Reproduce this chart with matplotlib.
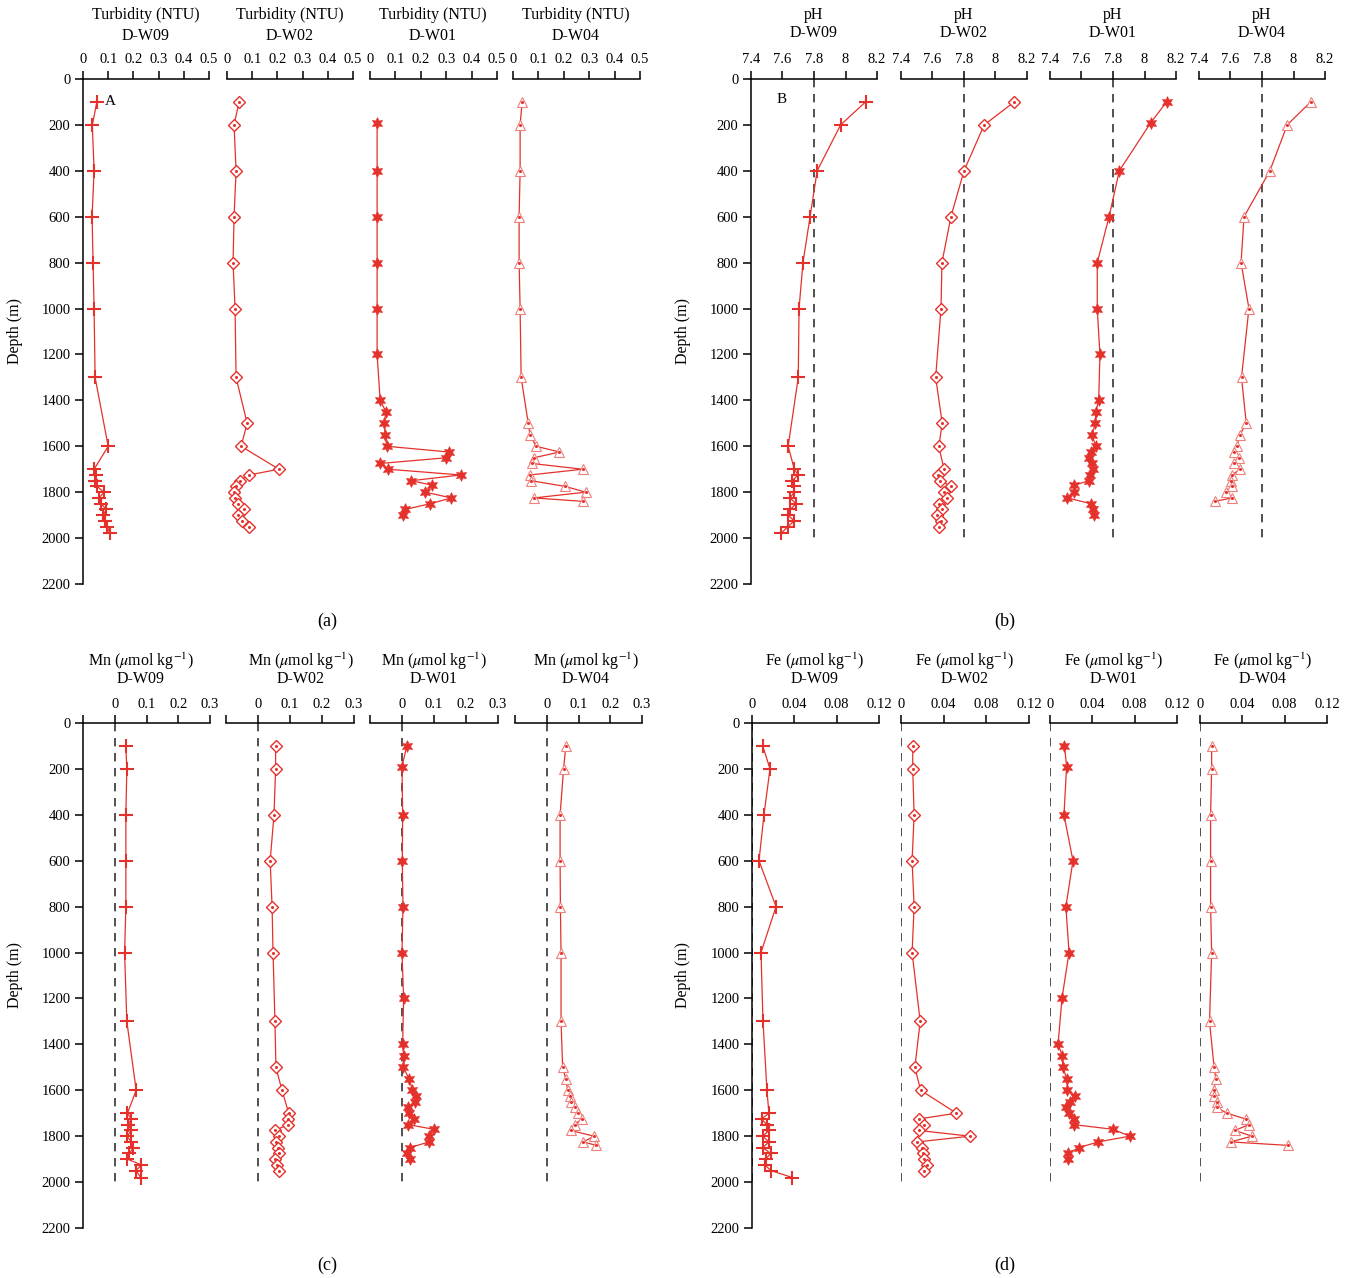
import matplotlib
matplotlib.use('Agg')
import matplotlib.pyplot as plt

plt.rcParams['font.family'] = 'Liberation Serif'
plt.rcParams['mathtext.fontset'] = 'stix'

# sampling depths (m) for each station
depth_w09 = [100, 200, 400, 600, 800, 1000, 1300, 1600, 1700, 1725, 1750, 1775, 1800,
             1825, 1850, 1875, 1900, 1925, 1950, 1980]
depth_w02 = [100, 200, 400, 600, 800, 1000, 1300, 1500, 1600, 1700, 1725, 1750, 1775,
             1800, 1825, 1850, 1875, 1900, 1925, 1950]
depth_w01 = [100, 190, 400, 600, 800, 1000, 1200, 1400, 1450, 1500, 1550, 1600, 1625,
             1650, 1675, 1700, 1725, 1750, 1770, 1800, 1825, 1850, 1875, 1900]
depth_w04 = [100, 200, 400, 600, 800, 1000, 1300, 1500, 1550, 1600, 1625, 1650, 1675,
             1700, 1725, 1750, 1775, 1800, 1825, 1840]

# turbidity (NTU) - D-W01 has no 100 m value
turb_w09 = [0.055, 0.037, 0.044, 0.036, 0.040, 0.044, 0.048, 0.100, 0.044, 0.052, 0.048,
            0.056, 0.083, 0.064, 0.072, 0.092, 0.080, 0.088, 0.096, 0.107]
turb_w02 = [0.048, 0.028, 0.036, 0.028, 0.024, 0.032, 0.036, 0.080, 0.056, 0.206, 0.087,
            0.050, 0.036, 0.028, 0.032, 0.044, 0.067, 0.044, 0.060, 0.087]
turb_w01 = [0.028, 0.028, 0.028, 0.028, 0.028, 0.028, 0.040, 0.063, 0.056, 0.060, 0.067,
            0.310, 0.300, 0.040, 0.071, 0.357, 0.163, 0.246, 0.218, 0.320, 0.238, 0.139, 0.131]
turb_w04 = [0.036, 0.028, 0.028, 0.024, 0.024, 0.028, 0.032, 0.060, 0.067, 0.091, 0.183,
            0.083, 0.075, 0.274, 0.067, 0.071, 0.206, 0.286, 0.083, 0.274]

# pH
ph_w09 = [8.127, 7.969, 7.82, 7.775, 7.73, 7.705, 7.70, 7.636, 7.675, 7.70, 7.66, 7.675,
          7.675, 7.647, 7.686, 7.65, 7.634, 7.675, 7.634, 7.59]
ph_w02 = [8.119, 7.928, 7.80, 7.717, 7.66, 7.654, 7.62, 7.662, 7.64, 7.673, 7.636, 7.65,
          7.717, 7.675, 7.694, 7.64, 7.66, 7.63, 7.652, 7.64]
ph_w01 = [8.14, 8.04, 7.84, 7.775, 7.70, 7.70, 7.717, 7.709, 7.69, 7.688, 7.667, 7.69,
          7.66, 7.647, 7.665, 7.673, 7.655, 7.647, 7.553, 7.551, 7.51, 7.66, 7.673, 7.68]
ph_w04 = [8.109, 7.96, 7.85, 7.686, 7.667, 7.717, 7.67, 7.70, 7.66, 7.64, 7.62, 7.657,
          7.62, 7.66, 7.61, 7.605, 7.61, 7.57, 7.61, 7.50]

# Mn (umol/kg)
mn_w09 = [0.035, 0.038, 0.035, 0.035, 0.035, 0.031, 0.038, 0.0675, 0.040, 0.052, 0.0425,
          0.052, 0.039, 0.052, 0.059, 0.046, 0.040, 0.084, 0.067, 0.082]
mn_w02 = [0.055, 0.055, 0.050, 0.038, 0.044, 0.047, 0.053, 0.056, 0.075, 0.096, 0.094,
          0.093, 0.053, 0.065, 0.056, 0.064, 0.065, 0.053, 0.060, 0.065]
mn_w01 = [0.015, 0.0, 0.002, 0.001, 0.003, 0.0, 0.005, 0.002, 0.005, 0.004, 0.0225, 0.0325,
          0.0425, 0.041, 0.0175, 0.021, 0.036, 0.020, 0.100, 0.085, 0.084, 0.025, 0.015, 0.024]
mn_w04 = [0.060, 0.053, 0.042, 0.042, 0.043, 0.045, 0.045, 0.050, 0.060, 0.066, 0.0725,
          0.075, 0.0875, 0.0975, 0.110, 0.0875, 0.075, 0.149, 0.115, 0.156]

# Fe (umol/kg)
fe_w09 = [0.0102, 0.017, 0.0113, 0.0066, 0.0227, 0.0085, 0.0104, 0.0141, 0.016, 0.009,
          0.014, 0.016, 0.0102, 0.016, 0.0102, 0.0176, 0.013, 0.012, 0.018, 0.038]
fe_w02 = [0.011, 0.011, 0.0123, 0.0104, 0.0123, 0.0104, 0.018, 0.013, 0.0184, 0.052,
          0.0165, 0.0216, 0.0165, 0.0647, 0.0153, 0.020, 0.0204, 0.0216, 0.0243, 0.022]
fe_w01 = [0.0137, 0.0157, 0.0132, 0.0217, 0.015, 0.018, 0.0113, 0.0076, 0.0118, 0.012,
          0.016, 0.0165, 0.024, 0.0188, 0.0153, 0.0176, 0.0224, 0.023, 0.0596, 0.0753,
          0.0455, 0.027, 0.0173, 0.0173]
fe_w04 = [0.011, 0.011, 0.010, 0.010, 0.010, 0.011, 0.009, 0.0133, 0.015, 0.013, 0.013,
          0.016, 0.0157, 0.0255, 0.043, 0.046, 0.033, 0.049, 0.029, 0.083]

stations = ['D-W09', 'D-W02', 'D-W01', 'D-W04']
depth_ticks = list(range(0, 2201, 200))

W, H = 1349, 1278
fig = plt.figure(figsize=(W / 100, H / 100), dpi=100)

red = '#e4312b'
pink = '#ef7f7b'

styles = {
    'D-W09': dict(marker='+', ms=10, mew=1.5, mec=red),
    'D-W02': dict(marker='D', ms=6, mew=1.0, mfc='white', mec=red),
    'D-W01': dict(marker=(6, 1, 0), ms=8.5, mew=0.5, mfc=red, mec=red),
    'D-W04': dict(marker='^', ms=6.5, mew=0.8, mfc='white', mec=pink),
}


def make_axes(x0, x1, y0, y1):
    return fig.add_axes([x0 / W, 1 - y1 / H, (x1 - x0) / W, (y1 - y0) / H])


panels = [
    dict(boxes=[(83, 209), (227, 353), (370, 497), (513, 640)], top=79, bottom=584,
         xlim=(0, 0.5), ticks=[0, 0.1, 0.2, 0.3, 0.4, 0.5],
         labels=['0', '0.1', '0.2', '0.3', '0.4', '0.5'],
         title='Turbidity (NTU)', title_x=[146, 290, 433, 576], title_y=(15, 36),
         series=[(depth_w09, turb_w09), (depth_w02, turb_w02),
                 (depth_w01[1:], turb_w01), (depth_w04, turb_w04)],
         ref=None, caption='(a)', cap_xy=(327, 621), ylab_x=15, letter=('A', 0.088, 100)),
    dict(boxes=[(751, 877), (901, 1027), (1050, 1176), (1199, 1325)], top=79, bottom=584,
         xlim=(7.4, 8.2), ticks=[7.4, 7.6, 7.8, 8.0, 8.2],
         labels=['7.4', '7.6', '7.8', '8', '8.2'],
         title='pH', title_x=[814, 964, 1113, 1262], title_y=(15, 33),
         series=[(depth_w09, ph_w09), (depth_w02, ph_w02),
                 (depth_w01, ph_w01), (depth_w04, ph_w04)],
         ref=7.8, caption='(b)', cap_xy=(1005, 621), ylab_x=683, letter=('B', 7.56, 90)),
    dict(boxes=[(83, 210), (226, 354), (370, 498), (515, 642)], top=723, bottom=1228,
         xlim=(-0.1, 0.3), ticks=[-0.1, 0, 0.1, 0.2, 0.3],
         labels=['', '0', '0.1', '0.2', '0.3'],
         title=r'Mn ($\mu$mol kg$^{-1}$)', title_x=[141, 301, 434, 586], title_y=(661, 679),
         series=[(depth_w09, mn_w09), (depth_w02, mn_w02),
                 (depth_w01, mn_w01), (depth_w04, mn_w04)],
         ref=0.0, caption='(c)', cap_xy=(327, 1265), ylab_x=15, letter=None),
    dict(boxes=[(752, 879), (901, 1029), (1050, 1177), (1200, 1327)], top=723, bottom=1228,
         xlim=(0, 0.12), ticks=[0, 0.04, 0.08, 0.12],
         labels=['0', '0.04', '0.08', '0.12'],
         title=r'Fe ($\mu$mol kg$^{-1}$)', title_x=[815, 965, 1114, 1263], title_y=(661, 679),
         series=[(depth_w09, fe_w09), (depth_w02, fe_w02),
                 (depth_w01, fe_w01), (depth_w04, fe_w04)],
         ref=0.0, caption='(d)', cap_xy=(1005, 1265), ylab_x=683, letter=None),
]

for p in panels:
    for i, st in enumerate(stations):
        x0, x1 = p['boxes'][i]
        ax = make_axes(x0, x1, p['top'], p['bottom'])
        ax.set_xlim(*p['xlim'])
        ax.set_ylim(2200, 0)
        ax.patch.set_alpha(0)
        for s in ['right', 'bottom']:
            ax.spines[s].set_visible(False)
        ax.spines['top'].set_linewidth(1.1)
        ax.spines['left'].set_linewidth(1.1)
        ax.xaxis.tick_top()
        ax.set_xticks(p['ticks'])
        ax.set_xticklabels(p['labels'])
        ax.tick_params(axis='x', direction='out', length=6, width=1.1, pad=3, labelsize=10.5)
        if i == 0:
            ax.set_yticks(depth_ticks)
            ax.set_yticklabels([str(d) for d in depth_ticks])
            ax.tick_params(axis='y', direction='out', length=6, width=1.1, pad=3, labelsize=10.5)
        else:
            ax.spines['left'].set_visible(False)
            ax.tick_params(axis='y', left=False, labelleft=False)

        if p['ref'] is not None:
            ax.vlines(p['ref'], 0, 2000, colors='#333333', linestyles=(0, (5, 4)), lw=1.2,
                      zorder=1)

        d, v = p['series'][i]
        ax.plot(v, d, '-', color=red, lw=0.9, clip_on=False, zorder=3, **styles[st])
        if st in ('D-W02', 'D-W04'):
            ax.plot(v, d, ls='none', marker='o', ms=1.2, color=red, zorder=4)

        if i == 0 and p['letter'] is not None:
            t, lx, ly = p['letter']
            ax.text(lx, ly, t, fontsize=11, ha='left', va='center')

        fig.text(p['title_x'][i] / W, 1 - p['title_y'][0] / H, p['title'],
                 fontsize=11.5, ha='center', va='center')
        fig.text(p['title_x'][i] / W, 1 - p['title_y'][1] / H, st,
                 fontsize=11.5, ha='center', va='center')

    fig.text(p['ylab_x'] / W, 1 - (p['top'] + p['bottom']) / 2 / H, 'Depth (m)',
             rotation=90, fontsize=11.5, ha='center', va='center')
    fig.text(p['cap_xy'][0] / W, 1 - p['cap_xy'][1] / H, p['caption'],
             fontsize=13, ha='center', va='center')

fig.savefig('out.png', dpi=100)
